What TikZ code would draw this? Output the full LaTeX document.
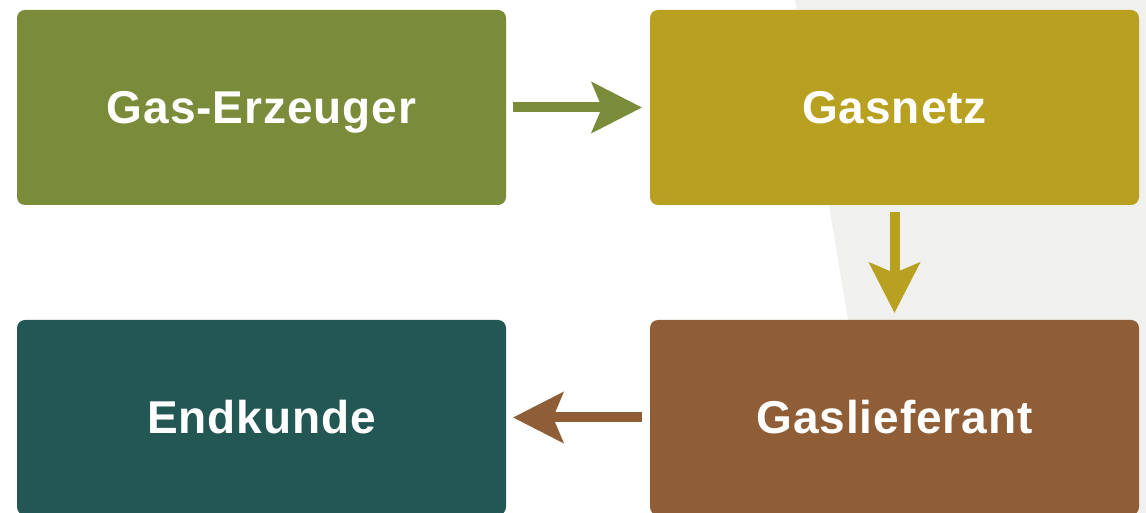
\documentclass[tikz,border=0pt]{standalone}
\usepackage{fontspec}
\setmainfont{Liberation Sans}[LetterSpace=2]
\usetikzlibrary{positioning}
\usetikzlibrary{arrows.meta}

\definecolor{gasgreen}{RGB}{122,139,58}
\definecolor{gasochre}{RGB}{184,160,32}
\definecolor{gasbrown}{RGB}{143,94,54}
\definecolor{gasteal}{RGB}{34,87,83}
\definecolor{bggrey}{RGB}{240,240,238}

\begin{document}
\begin{tikzpicture}[x=1pt,y=1pt,
        node distance = 115pt and 144pt,
        box/.style = {rounded corners=8pt,minimum width=489pt,minimum height=195pt,
            inner sep=0pt,outer sep=0pt,text=white,align=center,
            text height=33pt,text depth=0pt,
            font=\fontsize{46}{50}\selectfont\bfseries},
        flow/.style = {line width=10pt,-{Stealth[length=50pt,width=50pt,inset=10pt]}}]
    \useasboundingbox (0,0) rectangle (1146,513);
    \clip (0,0) rectangle (1146,513);
    % grey backdrop on the right
    \fill[bggrey] (795,513) -- (880,0) -- (1146,0) -- (1146,513) -- cycle;
    \node[box,fill=gasgreen] (b1) at (261.5,405.5) {Gas-Erzeuger};
    \node[box,fill=gasochre,right=of b1] (b2) {Gasnetz};
    \node[box,fill=gasbrown,below=of b2] (b3) {Gaslieferant};
    \node[box,fill=gasteal,left=of b3] (b4) {Endkunde};
    \draw[flow,gasgreen] ([xshift=7pt]b1.east) -- ([xshift=-8pt]b2.west);
    \draw[flow,gasochre] ([yshift=-7pt]b2.south) -- ([yshift=7pt]b3.north);
    \draw[flow,gasbrown] ([xshift=-8pt]b3.west) -- ([xshift=7pt]b4.east);
\end{tikzpicture}
\end{document}
